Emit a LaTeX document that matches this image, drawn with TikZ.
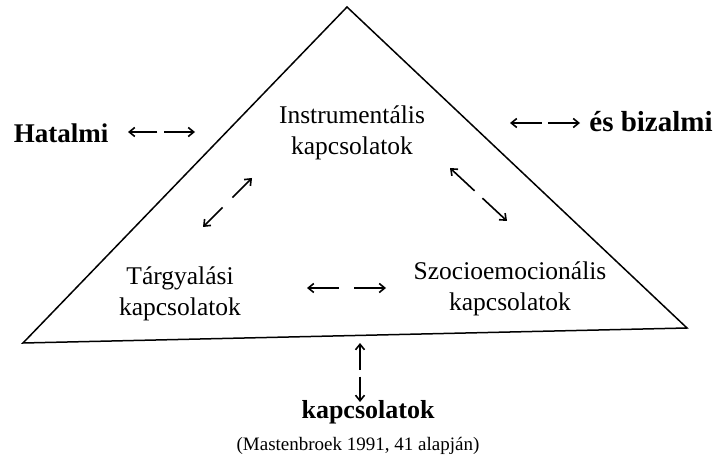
\documentclass[tikz,border=0pt]{standalone}
\usepackage{fontspec}
\setmainfont{Liberation Serif}
\usetikzlibrary{arrows.meta,calc}

\tikzset{
  gap arrow/.style={line width=1.6pt, -{Straight Barb[length=5.5pt,width=9pt]}},
  label text/.style={font=\fontsize{25.5}{31}\selectfont, align=center, inner sep=0pt},
  side text/.style={font=\fontsize{27}{30}\selectfont\bfseries, inner sep=0pt}
}
% two-headed arrow with a gap in the middle
\newcommand{\gaparrow}[4]{%
  \draw[gap arrow] ($(#1)!#3!(#2)$) -- (#1);
  \draw[gap arrow] ($(#1)!#4!(#2)$) -- (#2);}

\begin{document}
\begin{tikzpicture}[x=1pt, y=-1pt]
  \useasboundingbox (0,0) rectangle (714,470);

  % triangle
  \coordinate (apex) at (347,7);
  \coordinate (bl) at (23,343);
  \coordinate (br) at (687,328);
  \draw[line width=1.5pt, line join=miter] (apex) -- (br) -- (bl) -- cycle;

  % texts
  \node[label text] (instr) at (352,133) {Instrumentális\\kapcsolatok};
  \node[label text] (targy) at (180,294) {Tárgyalási\\kapcsolatok};
  \node[label text] (szocio) at (510,289) {Szocioemocionális\\kapcsolatok};
  \node[side text] (hatalmi) at (61,133) {Hatalmi};
  \node[side text, font=\fontsize{29}{30}\selectfont\bfseries] (bizalmi) at (651,122) {és bizalmi};
  \node[side text, font=\fontsize{26}{30}\selectfont\bfseries] (kapcs) at (368,412) {kapcsolatok};
  \node[label text, font=\fontsize{19}{23}\selectfont] (source) at (358,446) {(Mastenbroek 1991, 41 alapján)};

  % arrow ends
  \coordinate (h1) at (128,132);
  \coordinate (h2) at (195,132);
  \coordinate (b1) at (510,123);
  \coordinate (b2) at (580,123);
  \coordinate (it1) at (203,227);
  \coordinate (it2) at (252,178);
  \coordinate (is1) at (450,168);
  \coordinate (is2) at (507,221);
  \coordinate (ts1) at (307,288);
  \coordinate (ts2) at (386,288);
  \coordinate (k1) at (360,343);
  \coordinate (k2) at (360,402);

  % arrows
  \gaparrow{h1}{h2}{0.44}{0.54}
  \gaparrow{b1}{b2}{0.45}{0.54}
  \gaparrow{it1}{it2}{0.40}{0.60}
  \gaparrow{is1}{is2}{0.43}{0.57}
  \gaparrow{ts1}{ts2}{0.40}{0.60}
  \gaparrow{k1}{k2}{0.45}{0.57}
\end{tikzpicture}
\end{document}
